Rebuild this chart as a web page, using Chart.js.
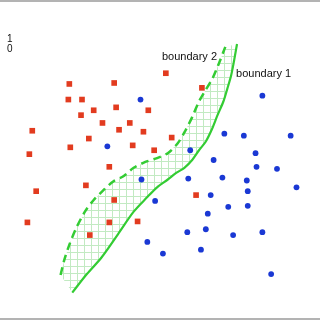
<!DOCTYPE html>
<html>
<head>
<meta charset="utf-8">
<script src="https://cdn.jsdelivr.net/npm/chart.js@4"></script>
<style>
  body { margin: 0; background: #fff; }
  canvas { display: block; }
</style>
</head>
<body>
<canvas id="graph" width="320" height="320"></canvas>
<script>
/* two classes of points and the two boundaries, in plot units (0-320, y up) */
var redPoints = [
    [67, 238], [113, 239], [66, 222], [80, 222], [92, 211], [115, 214], [148, 211],
    [79, 206], [101, 198], [129, 198], [29, 190], [118, 191], [143, 189], [87, 182],
    [68, 173], [132, 175], [154, 170], [26, 166], [166, 249], [203, 234], [172, 183],
    [108, 153], [33, 128], [84, 134], [113, 119], [24, 96], [108, 96], [137, 97],
    [88, 83], [197, 124]
];
var bluePoints = [
    [140, 222], [106, 174], [265, 226], [226, 187], [246, 185], [294, 185], [191, 170],
    [258, 167], [215, 160], [141, 140], [155, 118], [147, 76], [259, 153], [280, 151],
    [189, 141], [224, 142], [249, 139], [250, 128], [300, 132], [212, 124], [230, 112],
    [250, 113], [209, 105], [188, 86], [207, 89], [235, 83], [265, 86], [163, 64],
    [202, 68], [274, 43]
];
var boundary1 = [
    [70, 24], [85, 43], [100, 60], [117, 84], [133, 107], [147, 122], [157, 132],
    [168, 140], [177, 147], [185, 152], [193, 160], [200, 170], [207, 179], [213, 191],
    [219, 206], [225, 220], [229, 233], [233, 247], [236, 262], [239, 279]
];
var boundary2 = [
    [58, 42], [62, 58], [67, 73], [74, 90], [83, 107], [92, 119], [101, 128],
    [112, 138], [122, 143], [133, 152], [145, 158], [157, 162], [168, 167], [178, 177],
    [186, 190], [193, 204], [200, 220], [207, 232], [214, 244], [220, 258], [227, 276]
];
var labels = [
    { text: "boundary 2", x: 162, y: 263, size: 11 },
    { text: "boundary 1", x: 238, y: 245, size: 11 },
    { text: "1", x: 3, y: 281, size: 10 },
    { text: "0", x: 3, y: 271, size: 10 }
];

function toXY(list) {
    return list.map(function (p) { return { x: p[0], y: p[1] }; });
}

// light green grid used to hatch the region between the boundaries
var tile = document.createElement("canvas");
tile.width = 7;
tile.height = 7;
var tctx = tile.getContext("2d");
tctx.fillStyle = "#c2eac2";
tctx.fillRect(0, 0, 7, 1);
tctx.fillRect(0, 0, 1, 7);

var graph = document.getElementById("graph").getContext("2d");
var hatch = graph.createPattern(tile, "repeat");

var textPlugin = {
    id: "texts",
    afterDraw: function (chart) {
        var ctx = chart.ctx;
        var sx = chart.scales.x, sy = chart.scales.y;
        ctx.save();
        ctx.fillStyle = "#111";
        ctx.textAlign = "left";
        ctx.textBaseline = "alphabetic";
        labels.forEach(function (l) {
            ctx.font = l.size + 'px "Liberation Sans", Arial, sans-serif';
            ctx.fillText(l.text, sx.getPixelForValue(l.x), sy.getPixelForValue(l.y));
        });
        // grey frame lines at the top and bottom of the picture
        ctx.fillStyle = "#b3b3b3";
        ctx.fillRect(0, 0, chart.width, 2);
        ctx.fillRect(0, chart.height - 2, chart.width, 2);
        ctx.restore();
    }
};

var myChart = new Chart(graph, {
    type: "scatter",
    data: {
        datasets: [{
            label: "class 1",
            data: toXY(redPoints),
            pointStyle: "rect",
            pointRadius: 4,
            backgroundColor: "#e23b1f",
            borderWidth: 0,
        }, {
            label: "class 0",
            data: toXY(bluePoints),
            pointStyle: "circle",
            pointRadius: 2.9,
            backgroundColor: "#1a38d4",
            borderWidth: 0,
        }, {
            label: "boundary 1",
            data: toXY(boundary1),
            showLine: true,
            pointRadius: 0,
            borderColor: "#33cc33",
            borderWidth: 2.2,
            tension: 0.3,
            fill: false,
        }, {
            label: "boundary 2",
            data: toXY(boundary2),
            showLine: true,
            pointRadius: 0,
            borderColor: "#33cc33",
            borderWidth: 2.5,
            borderDash: [8, 5],
            tension: 0.3,
            fill: false,
        }, {
            label: "margin",
            data: toXY(boundary2.concat(boundary1.slice().reverse())),
            showLine: true,
            pointRadius: 0,
            borderWidth: 0,
            borderColor: "rgba(0,0,0,0)",
            backgroundColor: hatch,
            tension: 0,
            fill: "shape",
        }],
    },
    options: {
        responsive: false,
        animation: false,
        layout: { padding: 0 },
        scales: {
            x: { type: "linear", min: 0, max: 320, display: false },
            y: { type: "linear", min: 0, max: 320, display: false },
        },
        plugins: {
            legend: { display: false },
            tooltip: { enabled: false },
        },
    },
    plugins: [textPlugin],
});
</script>
</body>
</html>
